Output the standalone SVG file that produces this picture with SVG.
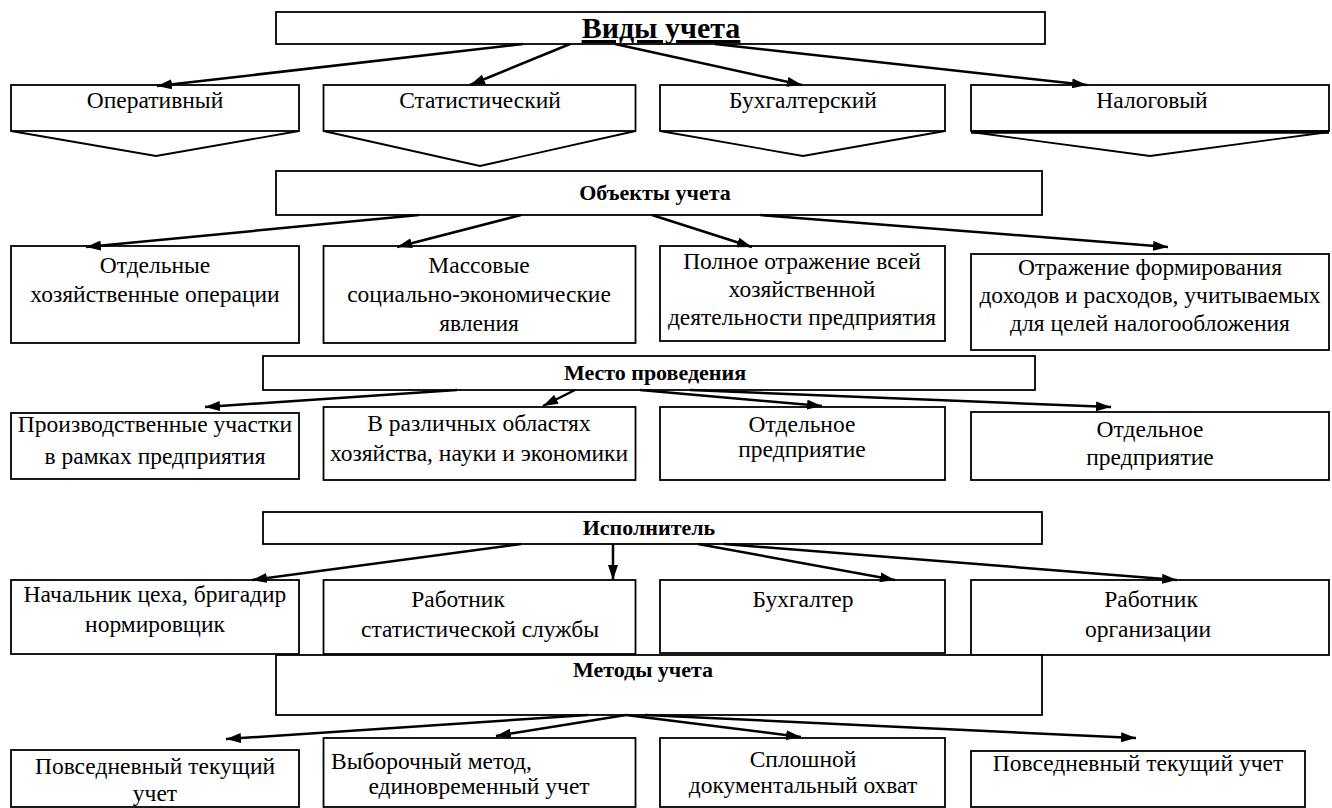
<svg xmlns="http://www.w3.org/2000/svg" width="1332" height="808" viewBox="0 0 1332 808">
<defs>
<marker id="ah" markerUnits="userSpaceOnUse" markerWidth="16" markerHeight="10" refX="15" refY="5" orient="auto"><path d="M0,0 L15,5 L0,10 z" fill="#000"/></marker>
<style>
.b{fill:#fff;stroke:#000;stroke-width:1.8}
.o{fill:none;stroke:#000;stroke-width:1.8}
.t{font-family:"Liberation Serif","Times New Roman",serif;font-size:23.5px;fill:#000;text-anchor:middle}
.h{font-family:"Liberation Serif","Times New Roman",serif;font-size:22px;font-weight:bold;fill:#000;text-anchor:middle}
.c{fill:none;stroke:#000;stroke-width:2.5;marker-end:url(#ah)}
</style>
</defs>
<rect width="1332" height="808" fill="#fff"/>
<g id="vidy">
<rect class="b" x="276" y="12" width="769" height="32"/>
<text class="h" x="661" y="38" style="font-size:30px;text-decoration:underline">Виды учета</text>
</g>
<g id="operativny">
<rect class="b" x="11" y="85" width="288" height="46"/>
<polyline class="o" points="11,131 156,156 299,131"/>
<text class="t" x="155" y="108">Оперативный</text>
</g>
<g id="statistichesky">
<rect class="b" x="323.5" y="85" width="312" height="46"/>
<polyline class="o" points="323.5,131 480,166 635.5,131"/>
<text class="t" x="480" y="108">Статистический</text>
</g>
<g id="buhgaltersky">
<rect class="b" x="660" y="85" width="285" height="46"/>
<polyline class="o" points="660,131 803,156 945,131"/>
<text class="t" x="803" y="108">Бухгалтерский</text>
</g>
<g id="nalogovy">
<rect class="b" x="971" y="85" width="358" height="46"/>
<polyline class="o" points="971,132 1150,156 1329,132"/>
<line x1="971" y1="132" x2="1329" y2="132" stroke="#000" stroke-width="3.5"/>
<text class="t" x="1152" y="108">Налоговый</text>
</g>
<g id="obekty">
<rect class="b" x="276" y="171" width="766" height="44"/>
<text class="h" x="655" y="200">Объекты учета</text>
</g>
<g id="obj1">
<rect class="b" x="11" y="246" width="288" height="97"/>
<text class="t" x="155" y="273">Отдельные</text>
<text class="t" x="155" y="302">хозяйственные операции</text>
</g>
<g id="obj2">
<rect class="b" x="323.5" y="246" width="312" height="97"/>
<text class="t" x="479" y="273">Массовые</text>
<text class="t" x="479" y="302">социально-экономические</text>
<text class="t" x="479" y="331">явления</text>
</g>
<g id="obj3">
<rect class="b" x="660" y="246" width="285" height="95"/>
<text class="t" x="802" y="269">Полное отражение всей</text>
<text class="t" x="802" y="297">хозяйственной</text>
<text class="t" x="802" y="325">деятельности предприятия</text>
</g>
<g id="obj4">
<rect class="b" x="971" y="254" width="358" height="96"/>
<text class="t" x="1150" y="275">Отражение формирования</text>
<text class="t" x="1150" y="303">доходов и расходов, учитываемых</text>
<text class="t" x="1150" y="331">для целей налогообложения</text>
</g>
<g id="mesto">
<rect class="b" x="263" y="356" width="772" height="34"/>
<text class="h" x="655" y="380">Место проведения</text>
</g>
<g id="m1">
<rect class="b" x="11" y="413" width="288" height="66"/>
<text class="t" x="155" y="432">Производственные участки</text>
<text class="t" x="155" y="464">в рамках предприятия</text>
</g>
<g id="m2">
<rect class="b" x="323.5" y="407" width="312" height="73"/>
<text class="t" x="479" y="431">В различных областях</text>
<text class="t" x="479" y="461">хозяйства, науки и экономики</text>
</g>
<g id="m3">
<rect class="b" x="660" y="407" width="285" height="73"/>
<text class="t" x="802" y="432">Отдельное</text>
<text class="t" x="802" y="457">предприятие</text>
</g>
<g id="m4">
<rect class="b" x="971" y="412" width="358" height="68"/>
<text class="t" x="1150" y="437">Отдельное</text>
<text class="t" x="1150" y="465">предприятие</text>
</g>
<g id="ispolnitel">
<rect class="b" x="263" y="512" width="779" height="32"/>
<text class="h" x="649" y="535">Исполнитель</text>
</g>
<g id="i1">
<rect class="b" x="11" y="580" width="288" height="74"/>
<text class="t" x="155" y="602">Начальник цеха, бригадир</text>
<text class="t" x="155" y="632">нормировщик</text>
</g>
<g id="i2">
<rect class="b" x="323.5" y="580" width="312" height="74"/>
<text class="t" x="458" y="607">Работник</text>
<text class="t" x="480" y="637">статистической службы</text>
</g>
<g id="i3">
<rect class="b" x="660" y="580" width="285" height="73"/>
<text class="t" x="803" y="607">Бухгалтер</text>
</g>
<g id="i4">
<rect class="b" x="971" y="580" width="358" height="75"/>
<text class="t" x="1151" y="607">Работник</text>
<text class="t" x="1148" y="637">организации</text>
</g>
<g id="metody">
<rect class="b" x="276" y="655" width="766" height="60"/>
<text class="h" x="643" y="677">Методы учета</text>
</g>
<g id="me1">
<rect class="b" x="11" y="750" width="288" height="57"/>
<text class="t" x="155" y="774">Повседневный текущий</text>
<text class="t" x="155" y="801">учет</text>
</g>
<g id="me2">
<rect class="b" x="323.5" y="738" width="312" height="69"/>
<text class="t" x="331" y="769" style="text-anchor:start">Выборочный метод,</text>
<text class="t" x="479" y="794">единовременный учет</text>
</g>
<g id="me3">
<rect class="b" x="660" y="738" width="285" height="69"/>
<text class="t" x="803" y="767">Сплошной</text>
<text class="t" x="803" y="793">документальный охват</text>
</g>
<g id="me4">
<rect class="b" x="971" y="751" width="334" height="56"/>
<text class="t" x="1138" y="771">Повседневный текущий учет</text>
</g>
<g id="connectors">
<line class="c" x1="523" y1="44" x2="157" y2="86"/>
<line class="c" x1="570" y1="44" x2="470" y2="85"/>
<line class="c" x1="615" y1="44" x2="802" y2="85"/>
<line class="c" x1="715" y1="44" x2="1087" y2="85"/>
<line class="c" x1="419" y1="215" x2="86" y2="247"/>
<line class="c" x1="521" y1="215" x2="397" y2="247"/>
<line class="c" x1="652" y1="215" x2="752" y2="247"/>
<line class="c" x1="760" y1="215" x2="1168" y2="247"/>
<line class="c" x1="457" y1="390" x2="205" y2="407"/>
<line class="c" x1="575" y1="390" x2="543" y2="406"/>
<line class="c" x1="640" y1="390" x2="822" y2="406"/>
<line class="c" x1="690" y1="390" x2="1111" y2="407"/>
<line class="c" x1="521" y1="544" x2="252" y2="580"/>
<line class="c" x1="613" y1="544" x2="613" y2="580"/>
<line class="c" x1="698" y1="544" x2="895" y2="580"/>
<line class="c" x1="724" y1="544" x2="1177" y2="580"/>
<line class="c" x1="588" y1="715" x2="226" y2="739"/>
<line class="c" x1="626" y1="715" x2="496" y2="736"/>
<line class="c" x1="626" y1="715" x2="801" y2="737"/>
<line class="c" x1="645" y1="715" x2="1136" y2="738"/>
</g>
</svg>
